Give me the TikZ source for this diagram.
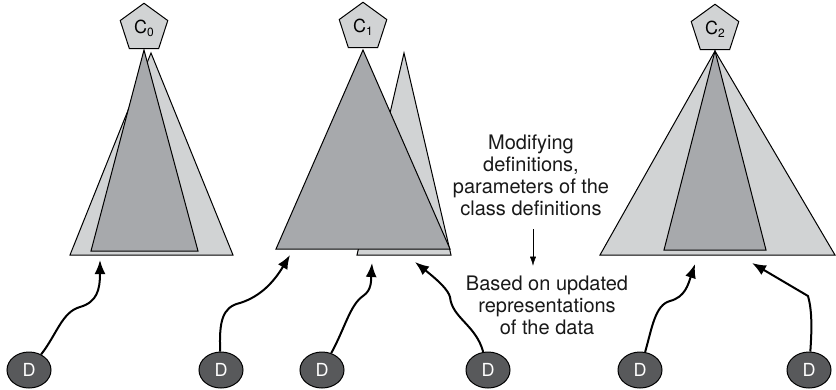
\documentclass[tikz,border=0pt]{standalone}
\usepackage{fontspec}
\setmainfont{TeX Gyre Heros}
\usepackage{tikz}
\usetikzlibrary{arrows.meta,positioning,shapes.geometric,calc}
\definecolor{lightgr}{HTML}{D1D3D4}
\definecolor{midgr}{HTML}{A7A9AC}
\definecolor{darkgr}{HTML}{58595B}

\begin{document}
\begin{tikzpicture}[x=1pt,y=-1pt,line width=1pt]
	\tikzstyle{pent}=[regular polygon,regular polygon sides=5,draw=black,fill=lightgr,minimum size=50pt,inner sep=0pt,font=\fontsize{18}{18}\selectfont]
	\tikzstyle{dnode}=[ellipse,draw=black,fill=darkgr,text=white,minimum width=44pt,minimum height=36pt,inner sep=0pt,font=\fontsize{18}{18}\selectfont]
	\tikzstyle{lighttri}=[draw=black,fill=lightgr]
	\tikzstyle{darktri}=[draw=black,fill=midgr]
	\tikzstyle{feed}=[line width=2pt,-{Latex[length=14pt,width=11pt]}]
	\tikzstyle{note}=[align=center,text=black!90,font=\fontsize{20}{22}\selectfont]

	\useasboundingbox[fill=white] (0,0) rectangle (836,389);

	% trees
	\filldraw[lighttri] (151,53) -- (70,255) -- (233,255) -- cycle;
	\filldraw[darktri] (144,50) -- (91,251) -- (198,251) -- cycle;

	\filldraw[lighttri] (404,53) -- (357,255) -- (451,255) -- cycle;
	\filldraw[darktri] (363,50) -- (276,249) -- (450,249) -- cycle;

	\filldraw[lighttri] (715,51) -- (600,255) -- (835,255) -- cycle;
	\filldraw[darktri] (715,51) -- (664,250) -- (766,250) -- cycle;

	% classes
	\node[pent, anchor=south] (C0) at (144,49) {C\raisebox{-3pt}{\fontsize{12}{12}\selectfont 0}};
	\node[pent, anchor=south] (C1) at (363,48) {C\raisebox{-3pt}{\fontsize{12}{12}\selectfont 1}};
	\node[pent, anchor=south] (C2) at (715,50) {C\raisebox{-3pt}{\fontsize{12}{12}\selectfont 2}};

	% data
	\node[dnode] (D1) at (29,370) {D};
	\node[dnode] (D2) at (221,370) {D};
	\node[dnode] (D3) at (322,370) {D};
	\node[dnode] (D4) at (488,370) {D};
	\node[dnode] (D5) at (640,370) {D};
	\node[dnode] (D6) at (809,370) {D};

	\coordinate (t1) at (100,260);
	\coordinate (t2) at (290,255);
	\coordinate (t3) at (372,263);
	\coordinate (t4) at (415,262);
	\coordinate (t5) at (695,264);
	\coordinate (t6) at (752,263);

	\draw[feed] (D1) .. controls (57,334) and (62,312) .. (80,307) .. controls (97,302) and (100,290) .. (t1);
	\draw[feed] (D2) .. controls (219,322) and (222,307) .. (240,303) .. controls (262,296) and (275,280) .. (t2);
	\draw[feed] (D3) .. controls (345,328) and (350,305) .. (363,296) .. controls (372,290) and (371,280) .. (t3);
	\draw[feed] (D4) .. controls (476,325) and (452,318) .. (450,297) .. controls (448,290) and (440,282) .. (t4);
	\draw[feed] (D5) .. controls (652,328) and (655,305) .. (670,301) .. controls (685,297) and (688,285) .. (t5);
	\draw[feed] (D6) .. controls (812,328) and (812,310) .. (808,296) -- (t6);

	% notes
	\node[note] (modif) at (531,175) {Modifying\\definitions,\\parameters of the\\class definitions};
	\node[note] (based) at (547,305) {Based on updated\\representations\\of the data};
	\draw[thin,-{Latex[length=9pt,width=6pt]}] ($(modif.south)+(2,10)$) -- ($(modif.south |- based.north)+(2,-6)$);
\end{tikzpicture}
\end{document}
